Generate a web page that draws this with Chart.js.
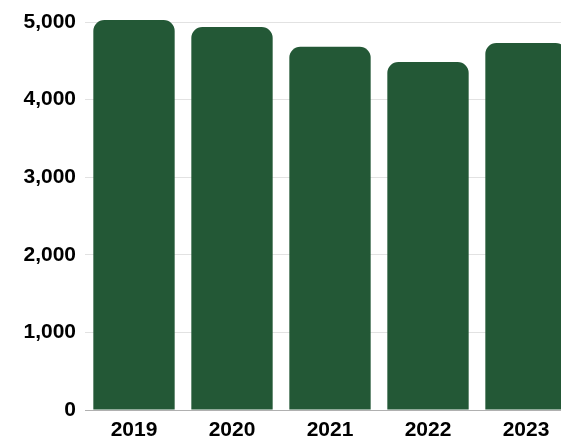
<!DOCTYPE html>
<html>
<head>
<meta charset="utf-8">
<script src="https://cdn.jsdelivr.net/npm/chart.js@4"></script>
<style>
  html, body { margin: 0; padding: 0; background: #fff; overflow: hidden; }
  #wrap { width: 561px; height: 440px; overflow: hidden; }
  #box { width: 575px; height: 440px; }
</style>
</head>
<body>
<div id="wrap"><div id="box"><canvas id="grafico"></canvas></div></div>
<script>
var years = ["2019", "2020", "2021", "2022", "2023"];
var values = [5025, 4935, 4680, 4485, 4730];
var yTicks = [0, 1000, 2000, 3000, 4000, 5000];

var ctx = document.getElementById("grafico");
new Chart(ctx, {
    type: "bar",
    data: {
        labels: years,
        datasets: [{
            data: values,
            backgroundColor: "#235836",
            borderRadius: { topLeft: 11, topRight: 11 },
            borderSkipped: "bottom",
            categoryPercentage: 1,
            barPercentage: 0.83,
            clip: false
        }]
    },
    options: {
        responsive: true,
        maintainAspectRatio: false,
        animation: false,
        layout: { padding: { top: 22, right: 0, left: 0, bottom: 0 } },
        plugins: { legend: { display: false }, tooltip: { enabled: false } },
        scales: {
            x: {
                grid: { display: false, drawTicks: false },
                border: { color: "#b0b0b0" },
                ticks: {
                    color: "#000",
                    font: { family: "Liberation Sans", size: 21, weight: "bold" },
                    padding: 8
                },
                afterFit: function (s) { s.height = 30; }
            },
            y: {
                min: 0,
                max: 5000,
                afterBuildTicks: function (s) {
                    s.ticks = yTicks.map(function (v) { return { value: v }; });
                },
                grid: { color: "#e2e2e2", drawTicks: false },
                border: { display: false },
                ticks: {
                    color: "#000",
                    font: { family: "Liberation Sans", size: 21, weight: "bold" },
                    padding: 9,
                    callback: function (v) { return v.toLocaleString("en-US"); }
                },
                afterFit: function (s) { s.width = 85; }
            }
        }
    }
});
</script>
</body>
</html>
